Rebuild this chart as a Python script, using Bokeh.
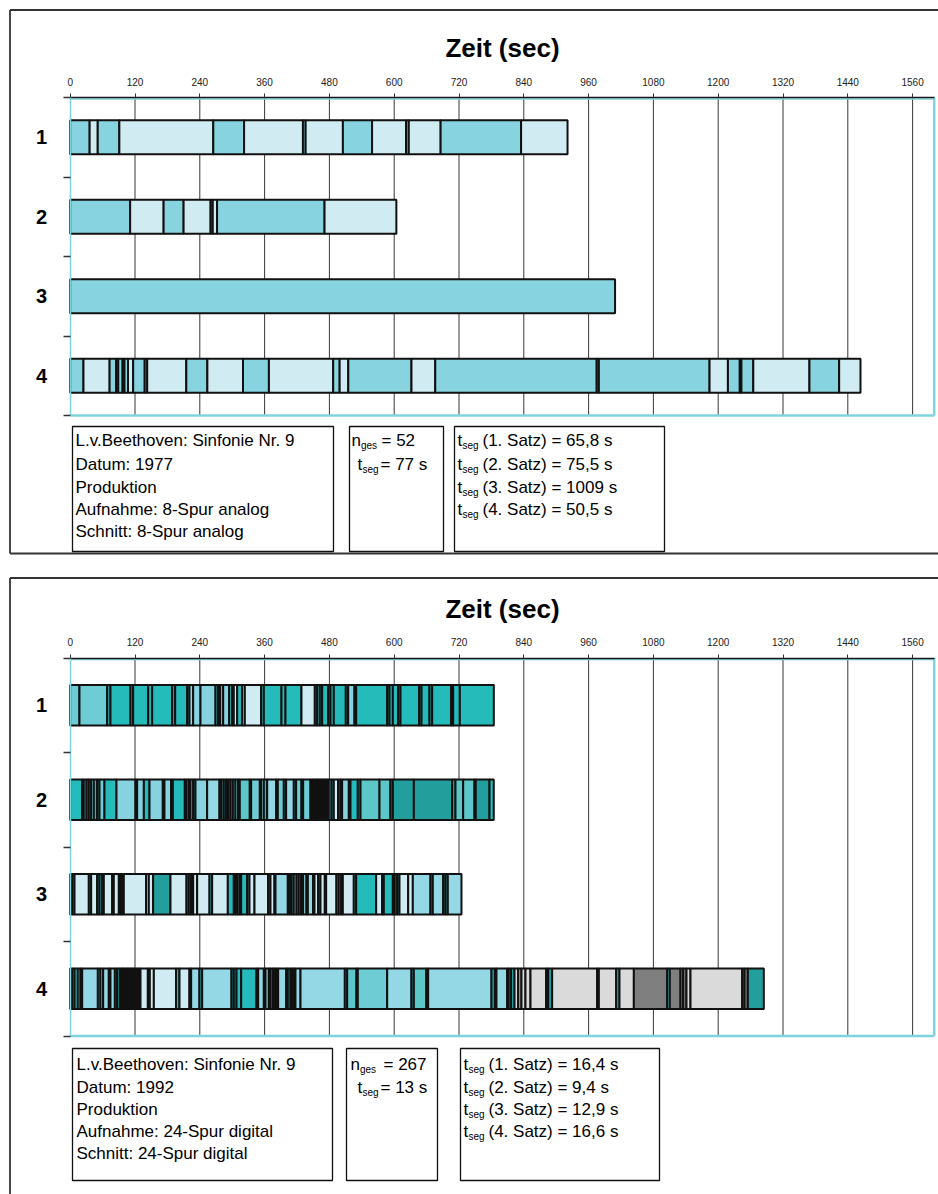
from bokeh.plotting import figure
from bokeh.models import Range1d, LinearAxis, FixedTicker, ColumnDataSource
from bokeh.layouts import column
from bokeh.embed import file_html
from bokeh.resources import INLINE
from bokeh.core.properties import value

FONT = "Liberation Sans"

# ---------------- data ----------------
X_TICKS = [0, 120, 240, 360, 480, 600, 720, 840, 960, 1080, 1200, 1320, 1440, 1560]
X_MAX = 1600
ROWS = [1, 2, 3, 4]
ROW_BOUNDS = [0.5, 1.5, 2.5, 3.5, 4.5]
AXIS_TITLE = "Zeit (sec)"

# 1977 recording: segment end times (s) per movement and shade code per segment
P1_CUTS_1 = [36, 51, 91, 265, 322, 431, 436, 505, 559, 622, 627, 686, 835, 921]
P1_CODES_1 = "MLMLMLMLMLMLML"
P1_CUTS_2 = [111, 173, 210, 260, 264, 272, 471, 604]
P1_CODES_2 = "MLMLMLML"
P1_CUTS_3 = [1009]
P1_CODES_3 = "M"
P1_CUTS_4 = [24.6, 73, 85, 89, 97, 100.5, 107, 116.6, 138, 142.6, 215, 254, 320, 368, 487,
             499, 515, 632, 676, 975, 979, 1184, 1218, 1240, 1243, 1265, 1369, 1424, 1463.5]
P1_CODES_4 = "MLMLMLMLMMLMLMLMLMLMLMLMLMLML"

# 1992 recording
P2_CUTS_1 = [17.2, 68.5, 74.6, 111.7, 116.6, 144.4, 151.8, 188.8, 194.4, 216.6, 220.9, 227.7,
             241.3, 269.1, 274, 277.7, 283.3, 294.4, 300, 303, 309.2, 318.5, 323.4, 353.6, 358.6,
             391.3, 398.7, 428.3, 453, 457.3, 462.3, 466.6, 477.7, 482, 488.2, 510.4, 514.8,
             526.5, 529.6, 587, 591.3, 597.5, 607.3, 611.7, 646.2, 650.6, 665.4, 670.3, 705.5,
             709.2, 721.5, 784.5]
P2_CODES_1 = "MMTTTTTTTTTCBBTTBBTTLTLLTTTTLTTTTTTTTBTTTTTTTTTTTTTT"
P2_CUTS_2 = [22.2, 25.2, 30.2, 34.5, 38.8, 43.8, 49.9, 54.3, 63.5, 85.7,
             120.9, 124, 136.4, 146.9, 171.5, 174.6, 187, 190.1, 212.3, 215.4,
             219.7, 222.8, 227.7, 232, 253.6, 276.5, 280.2, 284.5, 288.8, 292.5,
             296.9, 301.2, 306.1, 311, 314.1, 332.6, 335.1, 351.2, 353.6, 358.6,
             364.8, 381.4, 384.5, 395.6, 399.9, 414.1, 418.4, 428.3, 431.4, 445,
             448.1, 451.2, 454.3, 457.3, 460.4, 463.5, 466.6, 469.7, 472.8, 475.9,
             478.9, 483.9, 488.2, 496.2, 500.6, 503.6, 516, 519.1, 532.6, 537.6,
             572.8, 593.1, 597.5, 636.4, 707.4, 713.5, 727.7, 748.7, 751.1, 776.5,
             784.4]
P2_CODES_2 = ("TTMTTMTTMT" "BTBTBTBTTT" "BTBTBCTBTB" "TMTBTNTMTB" "TCTMTCTMTM"
              "TBTBTBTBTB" "TBTLTBBTTT" "NNTDDTNNTD" "T")
P2_CUTS_3 = [3.6, 8, 34.5, 38.8, 49.9, 54.3, 59.2, 62.3, 77.7, 80.8,
             90.1, 93.1, 96.2, 99.3, 140.6, 145.6, 153.6, 185.7, 215.4, 219.7,
             224, 227.7, 235.1, 258, 262.9, 291.9, 303, 306.1, 309.2, 313.5,
             316.6, 327.7, 332, 341.3, 366.6, 370.9, 378.3, 380.2, 403, 406.1,
             409.8, 414.1, 419.1, 423.4, 427.7, 431.4, 437.6, 440.1, 449.9, 452.4,
             459.2, 463.5, 471.5, 474, 493.1, 497.5, 501.8, 504.9, 525.2, 529.6,
             566.6, 577.7, 580.8, 597.5, 601.2, 605.5, 609.8, 625.9, 634.5, 667.2,
             671.5, 690.7, 695, 699.3, 724.6]
P2_CODES_3 = ("TTLTLTTLLT" "LTTTLLLDLT" "TTLLTLTTTL" "TTLLLTLTCT" "CTLTCTCTCT"
              "LTLTLTLTLT" "TLTTTLTLLC" "TCTTC")
P2_CUTS_4 = [3.6, 8, 14.1, 19.1, 22.2, 51.2, 56.1, 61.1, 71.5, 74.6,
             82.7, 87, 91.9, 94.4, 96.9, 99.3, 102.4, 105.5, 108.6, 111.7,
             114.8, 117.8, 120.9, 124, 127.1, 130.2, 143.8, 147.5, 154.9, 195.9,
             202.4, 220.9, 224, 239.4, 244.4, 298.7, 303, 308, 316.6, 345,
             348.1, 358.6, 361.7, 367.8, 370.9, 375.2, 378.3, 381.4, 385.1, 399.9,
             403, 408, 411.1, 414.1, 417.2, 426.5, 508.6, 512.9, 530.2, 532.6,
             587, 632, 636.4, 659.2, 662.9, 780.2, 786.4, 789.4, 809.2, 812.3,
             816.6, 822.8, 829.6, 835.7, 843.1, 852.4, 881.4, 885.1, 892.5, 975.9,
             979, 1011.1, 1017.2, 1043.8, 1105.5, 1110.4, 1130.2, 1135.1, 1141.3, 1148.7,
             1244.4, 1248.7, 1254.9, 1284.5]
P2_CODES_4 = ("TBTBTCTCCT" "CTTCTCTCTC" "TCTCTCLTLL" "TLTCTCTTTT" "TCTCTCTCTC"
              "TTCTTCCNNT" "MCTNTCTTCT" "GTGHGGGTDG" "TGTGKTKTKG" "GTKD")

P1_INFO = ["L.v.Beethoven: Sinfonie Nr. 9", "Datum: 1977", "Produktion",
           "Aufnahme: 8-Spur analog", "Schnitt: 8-Spur analog"]
P1_N = "= 52"
P1_T = "= 77 s"
P1_SATZ = ["(1. Satz) = 65,8 s", "(2. Satz) = 75,5 s", "(3. Satz) = 1009 s", "(4. Satz) = 50,5 s"]

P2_INFO = ["L.v.Beethoven: Sinfonie Nr. 9", "Datum: 1992", "Produktion",
           "Aufnahme: 24-Spur digital", "Schnitt: 24-Spur digital"]
P2_N = "= 267"
P2_T = "= 13 s"
P2_SATZ = ["(1. Satz) = 16,4 s", "(2. Satz) = 9,4 s", "(3. Satz) = 12,9 s", "(4. Satz) = 16,6 s"]

PAL1 = {"M": "#87D3DF", "L": "#D0EBF1"}
PAL2 = {"T": "#25BBBA", "D": "#229F9D", "M": "#6ECCD4", "B": "#86D3DF", "C": "#94D8E5",
        "L": "#D0EBF1", "N": "#5CC6C8", "G": "#DADADA", "H": "#A8A8A8", "K": "#7F7F7F"}

# ---------------- layout ----------------
W = 938
SX = 0.54          # px per second
X0_PAGE = 69.7     # page x of t = 0
X_START = -X0_PAGE / SX
X_END = X_START + W / SX


def build_panel(H, page_top, axis_page_y, band, cuts_rows, codes_rows, pal, cfg):
    y_top = 0.5 - (axis_page_y - page_top) / band
    y_bot = y_top + H / band

    def px(v):
        return X_START + v / SX

    def py(v):
        return y_top + (v - page_top) / band

    p = figure(width=W, height=H, x_range=Range1d(X_START, X_END), y_range=Range1d(y_bot, y_top),
               x_axis_type=None, y_axis_type=None, toolbar_location=None, output_backend="svg",
               min_border=0, min_border_left=0, min_border_right=0, min_border_top=0,
               min_border_bottom=0, outline_line_color=None, background_fill_color="white",
               border_fill_color="white")

    # grid lines
    gx = X_TICKS[1:]
    p.segment(x0=gx, x1=gx, y0=[ROW_BOUNDS[0]] * len(gx), y1=[ROW_BOUNDS[-1]] * len(gx),
              line_color="#383838", line_width=1)
    # cyan plot frame (bottom & right, plus a thin line under the top axis)
    p.segment(x0=[0, X_MAX], x1=[X_MAX, X_MAX],
              y0=[ROW_BOUNDS[-1], ROW_BOUNDS[0]], y1=[ROW_BOUNDS[-1], ROW_BOUNDS[-1]],
              line_color="#7FD3DF", line_width=2.5)
    p.segment(x0=[0], x1=[X_MAX], y0=[ROW_BOUNDS[0] + 1.5 / band], y1=[ROW_BOUNDS[0] + 1.5 / band],
              line_color="#7FD3DF", line_width=1.5)

    # bars
    left, right, yy, color = [], [], [], []
    for r, cuts, codes in zip(ROWS, cuts_rows, codes_rows):
        prev = 0
        for i, c in enumerate(cuts):
            code = codes[i] if i < len(codes) else codes[-1]
            left.append(prev)
            right.append(c)
            yy.append(r)
            color.append(pal[code])
            prev = c
    src = ColumnDataSource(dict(left=left, right=right, y=yy, color=color))
    p.hbar(y="y", left="left", right="right", height=0.43, fill_color="color",
           line_color="#111111", line_width=2, source=src)

    # axes
    xa = LinearAxis(ticker=FixedTicker(ticks=X_TICKS, minor_ticks=[]), fixed_location=ROW_BOUNDS[0],
                    bounds=(0, X_MAX), axis_label=AXIS_TITLE)
    xa.axis_line_color = "#1a1a1a"
    xa.axis_line_width = 1.5
    xa.major_tick_out = 4
    xa.major_tick_in = 0
    xa.major_tick_line_color = "#333333"
    xa.minor_tick_line_color = None
    xa.major_label_text_font = FONT
    xa.major_label_text_font_size = "10px"
    xa.major_label_text_color = "#222222"
    xa.major_label_standoff = 8
    xa.axis_label_text_font = FONT
    xa.axis_label_text_font_size = "26px"
    xa.axis_label_text_font_style = "bold"
    xa.axis_label_text_color = "#000000"
    xa.axis_label_standoff = 12
    p.add_layout(xa, "above")

    ya = LinearAxis(ticker=FixedTicker(ticks=ROWS, minor_ticks=ROW_BOUNDS), fixed_location=0,
                    bounds=(ROW_BOUNDS[0], ROW_BOUNDS[-1]))
    ya.axis_line_color = "#7FD3DF"
    ya.axis_line_width = 1.5
    ya.major_tick_out = 0
    ya.major_tick_in = 0
    ya.major_tick_line_color = None
    ya.minor_tick_out = 7
    ya.minor_tick_in = 0
    ya.minor_tick_line_color = "#333333"
    ya.minor_tick_line_width = 1.3
    ya.major_label_text_font = FONT
    ya.major_label_text_font_size = "20px"
    ya.major_label_text_font_style = "bold"
    ya.major_label_text_color = "#000000"
    ya.major_label_standoff = 16
    p.add_layout(ya, "left")

    # panel border
    bl, bt, bb = cfg["border"]
    p.segment(x0=[px(bl), px(bl)], x1=[px(bl), X_END],
              y0=[py(bt), py(bt)], y1=[py(bb), py(bt)], line_color="#333333", line_width=1.8)
    if cfg.get("border_bottom") is not None:
        yb = py(cfg["border_bottom"])
        p.segment(x0=[px(bl)], x1=[X_END], y0=[yb], y1=[yb], line_color="#333333", line_width=1.8)

    # info boxes
    bt_, bb_ = cfg["box_y"]
    for (l, r) in cfg["boxes_x"]:
        p.quad(left=[px(l)], right=[px(r)], top=[py(bt_)], bottom=[py(bb_)], fill_color="white",
               line_color="#111111", line_width=1.3)

    lines = cfg["lines_y"]
    big = dict(text_font=value(FONT), text_font_size="17px", text_baseline="middle",
               text_align="left", text_color="#000000")
    small = dict(text_font=value(FONT), text_font_size="10px", text_baseline="middle",
                 text_align="left", text_color="#000000")
    info = cfg["info"]
    p.text(x=[px(cfg["info_x"])] * len(info), y=[py(v) for v in lines[:len(info)]], text=info, **big)

    # box 2
    nx, tx = cfg["n_x"], cfg["t_x"]
    p.text(x=[px(nx), px(tx)], y=[py(lines[0]), py(lines[1])], text=["n", "t"], **big)
    p.text(x=[px(nx + 9.5), px(tx + 5)], y=[py(lines[0] + 5), py(lines[1] + 5)], text=["ges", "seg"], **small)
    p.text(x=[px(cfg["n_rest"]), px(cfg["t_rest"])], y=[py(lines[0]), py(lines[1])],
           text=[cfg["n_txt"], cfg["t_txt"]], **big)

    # box 3
    sx0 = cfg["s_x"]
    satz = cfg["satz"]
    n = len(satz)
    p.text(x=[px(sx0)] * n, y=[py(v) for v in lines[:n]], text=["t"] * n, **big)
    p.text(x=[px(sx0 + 5)] * n, y=[py(v + 5) for v in lines[:n]], text=["seg"] * n, **small)
    p.text(x=[px(sx0 + 25)] * n, y=[py(v) for v in lines[:n]], text=satz, **big)
    return p


cfg1 = dict(border=(9.5, 9.5, 553), border_bottom=553,
            box_y=(426, 551), boxes_x=[(72, 333), (349, 443), (454, 664)],
            lines_y=[440, 464, 487, 509, 531], info=P1_INFO, info_x=75,
            n_x=351, t_x=357, n_rest=381, t_rest=380, n_txt=P1_N, t_txt=P1_T,
            s_x=457, satz=P1_SATZ)
cfg2 = dict(border=(9.5, 577.5, 1194), border_bottom=None,
            box_y=(1048, 1180), boxes_x=[(72, 332), (346, 437), (460, 659)],
            lines_y=[1064, 1087, 1109, 1131, 1153], info=P2_INFO, info_x=76,
            n_x=350, t_x=357, n_rest=383, t_rest=380, n_txt=P2_N, t_txt=P2_T,
            s_x=463, satz=P2_SATZ)

p1 = build_panel(568, 0, 97, 79.5,
                 [P1_CUTS_1, P1_CUTS_2, P1_CUTS_3, P1_CUTS_4],
                 [P1_CODES_1, P1_CODES_2, P1_CODES_3, P1_CODES_4], PAL1, cfg1)
p2 = build_panel(626, 568, 657.5, 94.5,
                 [P2_CUTS_1, P2_CUTS_2, P2_CUTS_3, P2_CUTS_4],
                 [P2_CODES_1, P2_CODES_2, P2_CODES_3, P2_CODES_4], PAL2, cfg2)

layout = column(p1, p2, spacing=0)
open("out.html", "w").write(file_html(layout, INLINE))
